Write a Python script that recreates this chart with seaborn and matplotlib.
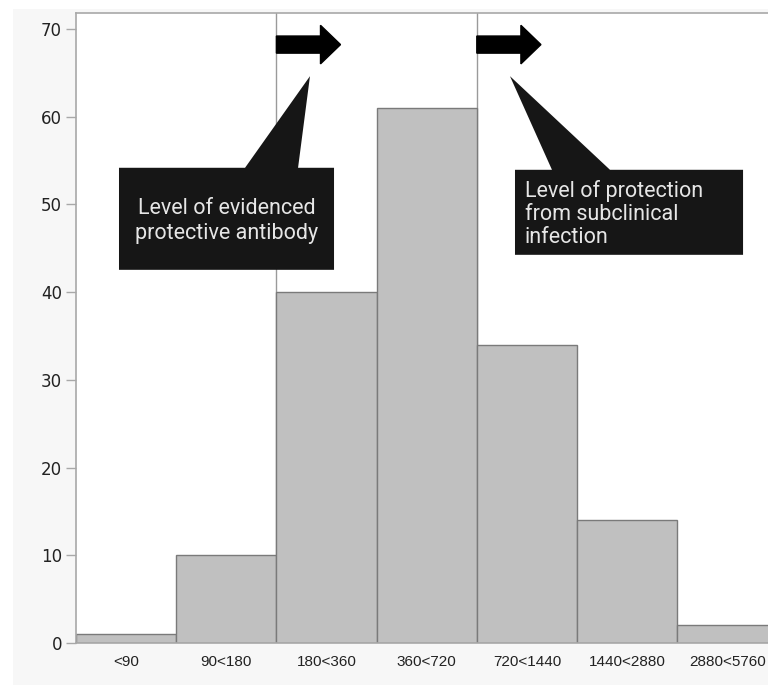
import matplotlib
matplotlib.use("Agg")
import matplotlib.pyplot as plt
from matplotlib.patches import Polygon, Rectangle, FancyArrow
import seaborn as sns
import pandas as pd

# data
categories = ["<90", "90<180", "180<360", "360<720", "720<1440", "1440<2880", "2880<5760"]
counts = [1, 10, 40, 61, 34, 14, 2]
y_ticks = [0, 10, 20, 30, 40, 50, 60, 70]
thresholds = [1.5, 3.5]  # boundaries: 180 and 720
callout_texts = ["Level of evidenced\nprotective antibody",
                 "Level of protection\nfrom subclinical\ninfection"]

df = pd.DataFrame({"titer": categories, "n": counts})

sns.set_theme(style="white")
plt.rcParams['font.family'] = ['DejaVu Sans']

fig = plt.figure(figsize=(7.68, 6.85), dpi=100, facecolor="white")
# light grey panel behind the plot (white margin top/left like the source)
fig.patches.append(Rectangle((13 / 768, 0), 1, (685 - 9) / 685, transform=fig.transFigure,
                             facecolor="#f7f7f7", edgecolor="none", zorder=-10))

ax = fig.add_axes([76 / 768, 42 / 685, 1 - 76 / 768, 630 / 685])
ax.set_facecolor("white")

# threshold lines behind the bars
for t in thresholds:
    ax.axvline(t, color="#9a9a9a", linewidth=1.0, zorder=0)

sns.barplot(data=df, x="titer", y="n", color="#c0c0c0", width=1.0, saturation=1,
            edgecolor="#7a7a7a", linewidth=1.0, ax=ax, zorder=2)

ax.set_xlim(-0.5, 6.406)
ax.set_ylim(0, 71.8)
ax.set_yticks(y_ticks)
ax.set_xlabel("")
ax.set_ylabel("")

for side in ["top", "left", "bottom"]:
    ax.spines[side].set_color("#a8a8a8")
    ax.spines[side].set_linewidth(1.2)
ax.spines["right"].set_visible(False)

ax.tick_params(axis="y", left=True, length=7, width=1, color="#a8a8a8", pad=3,
               labelsize=12, labelcolor="#222222")
ax.tick_params(axis="x", bottom=False, length=0, pad=9, labelsize=11, labelcolor="#222222")
for lab in ax.get_xticklabels():
    lab.set_family("Liberation Sans")

# block arrows at the top, starting at each threshold
for t in thresholds:
    ax.add_patch(FancyArrow(t, 68.2, 0.64, 0, width=1.95, head_width=4.4, head_length=0.2,
                            length_includes_head=True, color="black", zorder=4))

# callout boxes with pointer
box_col = "#161616"
callout1 = [(-0.071, 54.16), (1.187, 54.16), (1.835, 64.6), (1.716, 54.16),
            (2.075, 54.16), (2.075, 42.53), (-0.071, 42.53)]
callout2 = [(3.881, 53.93), (4.25, 53.93), (3.831, 64.6), (4.829, 53.93),
            (6.157, 53.93), (6.157, 44.24), (3.881, 44.24)]
ax.add_patch(Polygon(callout1, closed=True, facecolor=box_col, edgecolor="none", zorder=5))
ax.add_patch(Polygon(callout2, closed=True, facecolor=box_col, edgecolor="none", zorder=5))

ax.text(1.002, 48.1, callout_texts[0], ha="center", va="center", color="#e6e6e6",
        fontsize=15.5, family="Roboto", linespacing=1.2, zorder=6)
ax.text(3.98, 48.9, callout_texts[1], ha="left", va="center", color="#e6e6e6",
        fontsize=15.5, family="Roboto", linespacing=1.15, zorder=6)

plt.savefig("out.png", dpi=100, facecolor=fig.get_facecolor())
